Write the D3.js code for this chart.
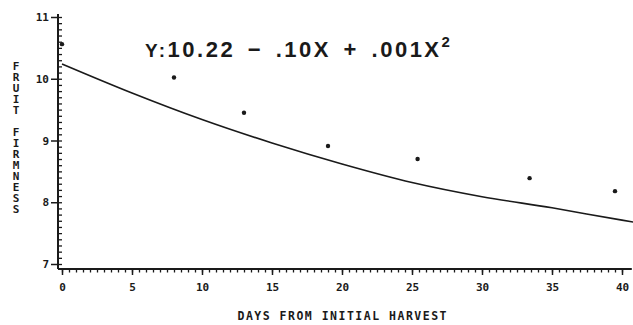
<!DOCTYPE html>
<html><head><meta charset="utf-8">
<script src="https://cdn.jsdelivr.net/npm/d3@7"></script>
<style>
html,body{margin:0;padding:0;background:#fff;}
svg{display:block;}
.lab{font-family:"DejaVu Sans Mono",monospace;font-weight:bold;fill:#1a1a1a;}
</style></head>
<body>
<script>
// ---- data ----
const obsDays = [0, 8, 13, 19, 25.4, 33.4, 39.5];
const obsFirmness = [10.56, 10.02, 9.45, 8.91, 8.70, 8.39, 8.18];
const fitDays = [0, 5, 10, 15, 20, 25, 30, 35, 40, 40.8];
const fitFirmness = [10.24, 9.77, 9.34, 8.96, 8.62, 8.32, 8.09, 7.91, 7.71, 7.68];
const xTicks = [0, 5, 10, 15, 20, 25, 30, 35, 40];
const yTicks = [7, 8, 9, 10, 11];
const xTitle = "DAYS FROM INITIAL HARVEST";
const yTitle = "FRUIT FIRMNESS";

const W = 633, H = 325;
const svg = d3.select("body").append("svg").attr("width", W).attr("height", H);
const ink = "#1a1a1a";

const x = d3.scaleLinear().domain([0, 40]).range([62, 622]);
const y = d3.scaleLinear().domain([7, 11]).range([264, 17]);
const axX = 58, axY = 269;

// axis lines
svg.append("line").attr("x1", axX).attr("x2", axX).attr("y1", y(11) - 3).attr("y2", axY)
  .attr("stroke", ink).attr("stroke-width", 2);
svg.append("line").attr("x1", axX).attr("x2", x(40.7)).attr("y1", axY).attr("y2", axY)
  .attr("stroke", ink).attr("stroke-width", 2);

// y minor ticks (inside)
const yMinor = svg.append("g").attr("transform", `translate(${axX},0)`)
  .call(d3.axisRight(y).tickValues(d3.range(70, 111, 1).map(d => d / 10)).tickSize(4).tickFormat(""));
yMinor.select(".domain").remove();
yMinor.selectAll("line").attr("stroke", ink).attr("stroke-width", 1.3);

// y major ticks with labels
const yMajor = svg.append("g").attr("transform", `translate(${axX},0)`)
  .call(d3.axisLeft(y).tickValues(yTicks).tickSize(7).tickPadding(2).tickFormat(d3.format("d")));
yMajor.select(".domain").remove();
yMajor.selectAll("line").attr("stroke", ink).attr("stroke-width", 1.5);
yMajor.selectAll("text").attr("class", "lab").style("font-size", "11px").attr("fill", ink);

// x minor ticks
const xMinor = svg.append("g").attr("transform", `translate(0,${axY})`)
  .call(d3.axisBottom(x).tickValues(d3.range(0, 81, 1).map(d => d / 2)).tickSize(3.5).tickFormat(""));
xMinor.select(".domain").remove();
xMinor.selectAll("line").attr("stroke", ink).attr("stroke-width", 1.3);

// x major ticks with labels
const xMajor = svg.append("g").attr("transform", `translate(0,${axY})`)
  .call(d3.axisBottom(x).tickValues(xTicks).tickSize(6).tickPadding(8).tickFormat(d3.format("d")));
xMajor.select(".domain").remove();
xMajor.selectAll("line").attr("stroke", ink).attr("stroke-width", 1.5);
xMajor.selectAll("text").attr("class", "lab").style("font-size", "11px").attr("fill", ink);

// x title
svg.append("text").attr("class", "lab").attr("x", 342).attr("y", 320)
  .attr("text-anchor", "middle").style("font-size", "11.5px")
  .attr("textLength", 209).attr("lengthAdjust", "spacing").text(xTitle);

// y title: one vertical text with upright letters
svg.append("text").attr("class", "lab")
  .attr("x", 16).attr("y", 60)
  .style("font-size", "11px")
  .style("writing-mode", "vertical-rl")
  .style("text-orientation", "upright")
  .style("letter-spacing", "-2px")
  .text(yTitle);

// fitted curve
const pts = fitDays.map((d, i) => [d, fitFirmness[i]]);
svg.append("path").datum(pts)
  .attr("d", d3.line().x(d => x(d[0])).y(d => y(d[1])).curve(d3.curveMonotoneX))
  .attr("fill", "none").attr("stroke", ink).attr("stroke-width", 1.6);

// observed points
svg.append("g").selectAll("circle").data(obsDays.map((d, i) => [d, obsFirmness[i]])).join("circle")
  .attr("cx", d => x(d[0])).attr("cy", d => y(d[1])).attr("r", 2.2).attr("fill", ink);

// equation
const eq = svg.append("text").attr("x", 145).attr("y", 57)
  .style("font-family", "'Liberation Sans', Arial, sans-serif").style("font-weight", "bold")
  .style("font-size", "22px").style("letter-spacing", "2.5px").style("word-spacing", "4px")
  .attr("fill", ink);
eq.append("tspan").style("font-size", "19px").text("Y:");
eq.append("tspan").text("10.22 − .10X + .001X");
eq.append("tspan").attr("dy", -10).style("font-size", "15px").text("2");
</script>
</body></html>
